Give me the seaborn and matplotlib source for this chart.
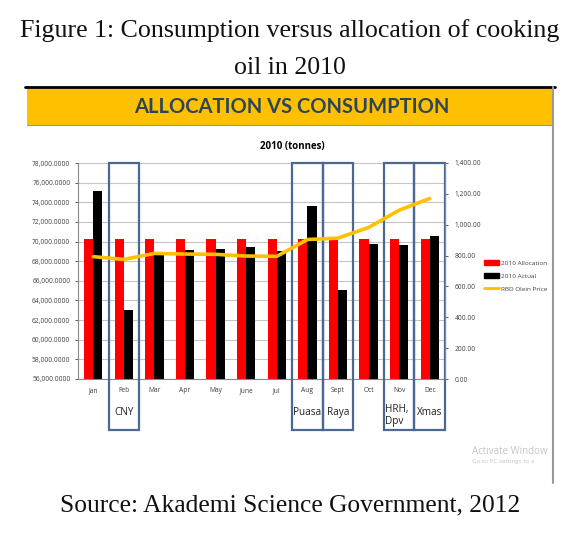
import numpy as np
import pandas as pd
import matplotlib.pyplot as plt
from matplotlib.patches import Rectangle
from matplotlib.lines import Line2D
import matplotlib.transforms as mtransforms
import matplotlib.ticker as mticker
import seaborn as sns

# Values
months = ["Jan", "Feb", "Mar", "Apr", "May", "June", "Jul", "Aug", "Sept", "Oct", "Nov", "Dec"]
allocation = [70300, 70300, 70300, 70300, 70300, 70300, 70300, 70300, 70300, 70300, 70300, 70300]
actual = [75150, 63000, 68980, 69120, 69190, 69460, 69050, 73630, 65070, 69740, 69640, 70590]
price = [793, 775, 814, 810, 808, 797, 795, 904, 913, 982, 1094, 1170]

# festive periods boxed on the chart
events = ["Feb", "Aug", "Sept", "Nov", "Dec"]
event_labels = ["CNY", "Puasa", "Raya", "HRH,\nDpv", "Xmas"]

series_names = ["2010 Allocation", "2010 Actual", "RBD Olein Price"]

df = pd.DataFrame({
    "month": months * 2,
    "series": [series_names[0]] * 12 + [series_names[1]] * 12,
    "tonnes": allocation + actual,
})

sns.set_style("white")
plt.rcParams["font.family"] = ["Open Sans", "DejaVu Sans"]

RED = "#FF0000"
BLACK = "#000000"
GOLD = "#FFC000"
BOX = "#4A6890"

W, H = 580, 533
fig = plt.figure(figsize=(W / 100, H / 100), dpi=100)

def fx(px):
    return px / W

def fy(py):
    return 1 - py / H

# figure caption (serif, as in the document)
fig.text(0.5, fy(31), "Figure 1: Consumption versus allocation of cooking", ha="center", va="center",
         family="Liberation Serif", fontsize=18.6, color="#111111")
fig.text(0.5, fy(68), "oil in 2010", ha="center", va="center",
         family="Liberation Serif", fontsize=18.6, color="#111111")
fig.text(0.5, fy(505), "Source: Akademi Science Government, 2012", ha="center", va="center",
         family="Liberation Serif", fontsize=18.4, color="#111111")

# yellow banner of the Excel chart
fig.add_artist(Rectangle((fx(27), fy(125)), fx(553) - fx(27), fy(88) - fy(125),
                         transform=fig.transFigure, facecolor=GOLD, edgecolor="none"))
fig.add_artist(Line2D([fx(25), fx(555)], [fy(87), fy(87)], transform=fig.transFigure,
                      color="black", lw=2))
fig.add_artist(Line2D([fx(27), fx(553)], [fy(125), fy(125)], transform=fig.transFigure,
                      color="#9a9a6a", lw=0.8))
fig.add_artist(Line2D([fx(553), fx(553)], [fy(87), fy(483)], transform=fig.transFigure,
                      color="#9a9a9a", lw=1.5))
fig.text(fx(292), fy(107), "ALLOCATION VS CONSUMPTION", ha="center", va="center",
         fontsize=14.5, fontweight="bold", color="#2C4659", family=["Lato", "DejaVu Sans"])
fig.text(fx(292), fy(147), "2010 (tonnes)", ha="center", va="center",
         fontsize=7, fontweight="bold", color="black")

ax = fig.add_axes([fx(78), fy(379), fx(445) - fx(78), fy(163) - fy(379)])

sns.barplot(data=df, x="month", y="tonnes", hue="series", order=months,
            hue_order=series_names[:2], palette=[RED, BLACK], saturation=1,
            width=0.6, gap=0, legend=False, ax=ax, edgecolor="none", linewidth=0)

ax.set_ylim(56000, 78000)
ax.set_xlim(-0.5, len(months) - 0.5)
ax.set_yticks(np.arange(56000, 78001, 2000))
ax.yaxis.set_major_formatter(mticker.FuncFormatter(lambda v, p: f"{v:,.4f}"))
ax.grid(axis="y", color="#c4c4c4", lw=0.8)
ax.set_axisbelow(True)
ax.set_xlabel("")
ax.set_ylabel("")
ax.tick_params(axis="both", labelsize=4.8, colors="#404040", length=2, width=0.6)
ax.tick_params(axis="x", length=0, pad=6)
ax.set_xticks(np.arange(-0.5, len(months), 1.0), minor=True)
ax.tick_params(axis="x", which="minor", length=26, color="#e2e2e2", width=0.6)
for s in ["top", "right"]:
    ax.spines[s].set_visible(False)
for s in ["left", "bottom"]:
    ax.spines[s].set_color("#8a8a8a")
    ax.spines[s].set_linewidth(0.8)

ax2 = ax.twinx()
sns.lineplot(x=np.arange(len(months)), y=price, color=GOLD, lw=2.6, ax=ax2, legend=False)
ax2.set_ylim(0, 1400)
ax2.set_yticks(np.arange(0, 1401, 200))
ax2.yaxis.set_major_formatter(mticker.FuncFormatter(lambda v, p: f"{v:,.2f}"))
ax2.tick_params(axis="y", labelsize=4.8, colors="#404040", length=2, width=0.6, pad=5)
for s in ["top", "left", "bottom"]:
    ax2.spines[s].set_visible(False)
ax2.spines["right"].set_color("#8a8a8a")
ax2.spines["right"].set_linewidth(0.8)
ax2.set_ylabel("")

# boxes around the festive months, reaching below the axis
trans = mtransforms.blended_transform_factory(ax.transData, ax.transAxes)
for m, lab in zip(events, event_labels):
    i = months.index(m)
    ax.add_patch(Rectangle((i - 0.5, -0.236), 1.0, 1.236, transform=trans, fill=False,
                           edgecolor=BOX, lw=1.6, clip_on=False, zorder=5))
    if "\n" in lab:
        ax.text(i - 0.47, -0.115, lab, transform=trans, ha="left", va="top",
                fontsize=7.2, color="#222222", linespacing=1.1)
    else:
        ax.text(i, -0.155, lab, transform=trans, ha="center", va="center",
                fontsize=7.2, color="#222222")

# legend on the right
handles = [Rectangle((0, 0), 1, 1, color=RED), Rectangle((0, 0), 1, 1, color=BLACK),
           Line2D([0], [0], color=GOLD, lw=2)]
fig.legend(handles, series_names, loc="center left", bbox_to_anchor=(fx(478), fy(276)),
           frameon=False, fontsize=4.6, handlelength=2.4, handleheight=0.9,
           handletextpad=0.3, labelspacing=1.1, labelcolor="#404040")

# Windows watermark from the screenshot
fig.text(fx(472), fy(451), "Activate Window", fontsize=7, color="#c4c4c4", va="center")
fig.text(fx(472), fy(462), "Go to PC settings to a", fontsize=4.5, color="#c4c4c4", va="center")

fig.savefig("out.png", dpi=100)
